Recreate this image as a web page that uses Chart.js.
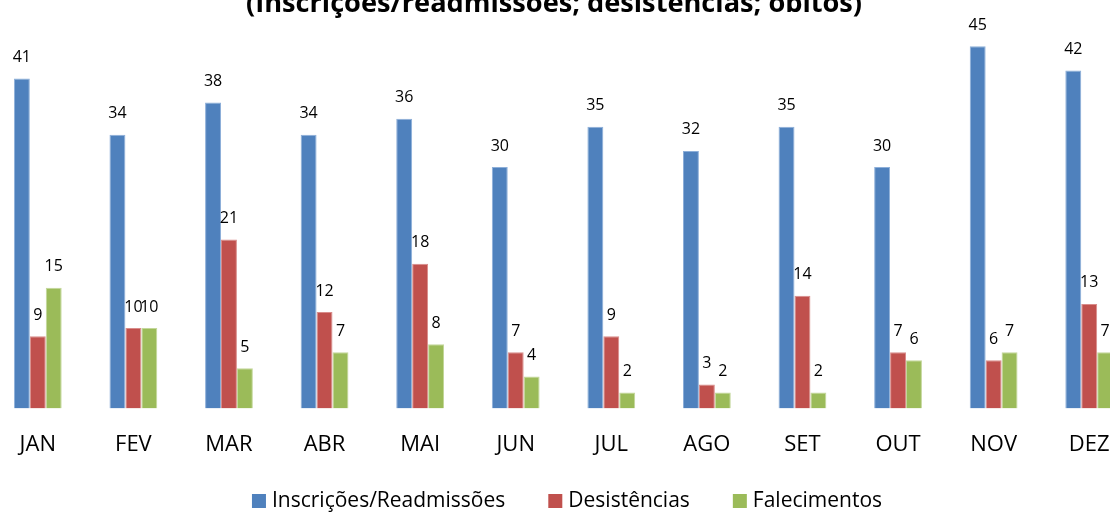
<!DOCTYPE html>
<html><head><meta charset="utf-8">
<script src="https://cdn.jsdelivr.net/npm/chart.js@4.4.1/dist/chart.umd.min.js"></script>
<style>
html,body{margin:0;padding:0;background:#fff;overflow:hidden;width:1110px;height:513px;}
#wrap{position:absolute;left:-10px;top:0;width:1147px;height:513px;}
</style></head><body>
<div id="wrap"><canvas id="c" width="1147" height="513"></canvas></div>
<script>
const categories = ['JAN','FEV','MAR','ABR','MAI','JUN','JUL','AGO','SET','OUT','NOV','DEZ'];
const inscricoes = [41,34,38,34,36,30,35,32,35,30,45,42];
const desistencias = [9,10,21,12,18,7,9,3,14,7,6,13];
const falecimentos = [15,10,5,7,8,4,2,2,2,6,7,7];
const seriesNames = ['Inscrições/Readmissões','Desistências','Falecimentos'];
const titleText = '(Inscrições/readmissões; desistências; óbitos)';

const FONT = '"Open Sans", Lato, sans-serif';

const valueLabels = {
  id:'valueLabels',
  afterDatasetsDraw(chart){
    const ctx = chart.ctx;
    ctx.save();
    ctx.font = '16px ' + FONT;
    ctx.fillStyle = '#000';
    ctx.textAlign = 'center';
    ctx.textBaseline = 'middle';
    chart.data.datasets.forEach((ds,i)=>{
      chart.getDatasetMeta(i).data.forEach((bar,j)=>{
        ctx.fillText(String(ds.data[j]), bar.x, bar.y - 21);
      });
    });
    ctx.restore();
  }
};
const topTitle = {
  id:'topTitle',
  afterDraw(chart){
    const ctx = chart.ctx;
    ctx.save();
    let size = 24;
    ctx.font = 'bold ' + size + 'px ' + FONT;
    const w = ctx.measureText(titleText).width;
    size = size * 616 / w;
    ctx.font = 'bold ' + size.toFixed(1) + 'px ' + FONT;
    ctx.fillStyle = '#000';
    ctx.textAlign = 'center';
    ctx.textBaseline = 'alphabetic';
    ctx.fillText(titleText, 10 + 554, 12);
    ctx.restore();
  }
};
const bottomLegend = {
  id:'bottomLegend',
  afterDraw(chart){
    const ctx = chart.ctx;
    ctx.save();
    ctx.font = '21px ' + FONT;
    ctx.textBaseline = 'middle';
    ctx.textAlign = 'left';
    const box = 14, gap = 6, spacing = 43;
    const items = chart.data.datasets.map(ds=>({text:ds.label, color:ds.backgroundColor, w:ctx.measureText(ds.label).width}));
    const total = items.reduce((s,it)=>s+box+gap+it.w,0) + spacing*(items.length-1);
    let x = 10 + 567 - total/2;
    const y = 501;
    items.forEach(it=>{
      ctx.fillStyle = it.color;
      ctx.fillRect(x, y - box/2, box, box);
      ctx.fillStyle = '#000';
      ctx.fillText(it.text, x + box + gap, y);
      x += box + gap + it.w + spacing;
    });
    ctx.restore();
  }
};

new Chart(document.getElementById('c'), {
  type:'bar',
  data:{
    labels: categories,
    datasets:[
      {label:seriesNames[0], data:inscricoes, backgroundColor:'#4F81BD', borderColor:'#8DAFD9', borderWidth:1},
      {label:seriesNames[1], data:desistencias, backgroundColor:'#C0504D', borderColor:'#D98C8A', borderWidth:1},
      {label:seriesNames[2], data:falecimentos, backgroundColor:'#9BBB59', borderColor:'#C3D79A', borderWidth:1}
    ]
  },
  options:{
    responsive:false,
    animation:false,
    layout:{padding:{top:6,left:0,right:0,bottom:32}},
    datasets:{bar:{categoryPercentage:0.5, barPercentage:1.0}},
    scales:{
      x:{
        grid:{display:false, drawTicks:false},
        border:{display:false},
        ticks:{padding:23, color:'#000', font:{family:FONT, size:22, lineHeight:1.2}}
      },
      y:{display:false, min:0, max:50}
    },
    plugins:{
      legend:{display:false},
      tooltip:{enabled:false}
    }
  },
  plugins:[valueLabels, topTitle, bottomLegend]
});
</script>
</body></html>
